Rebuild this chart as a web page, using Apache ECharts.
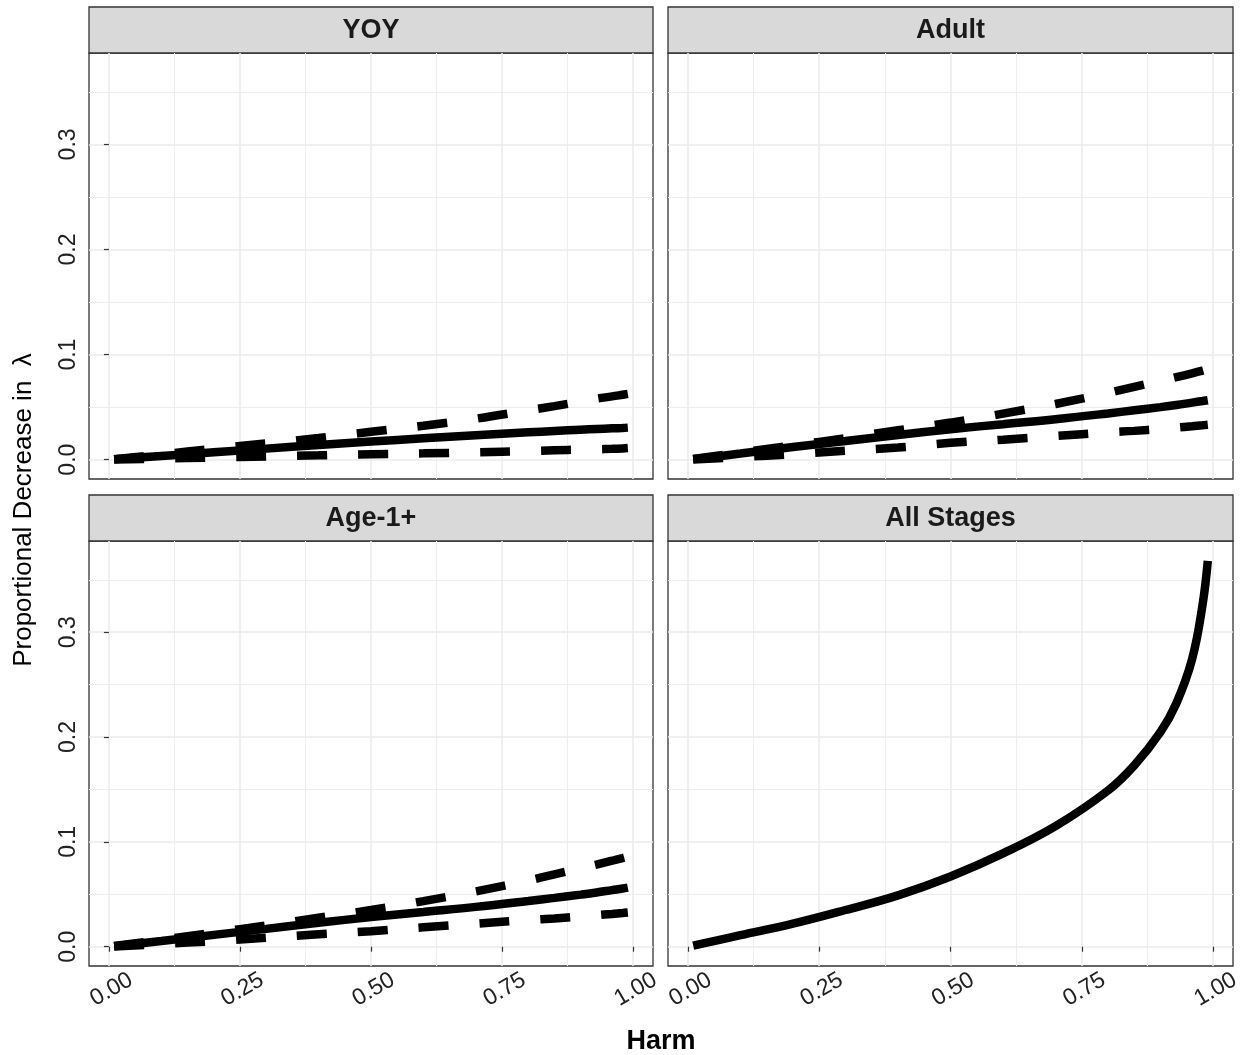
<!DOCTYPE html>
<html>
<head>
<meta charset="UTF-8">
<title>Proportional Decrease in lambda</title>
<script src="https://cdn.jsdelivr.net/npm/echarts@6/dist/echarts.min.js"></script>
<style>
  html, body { margin: 0; padding: 0; background: #fff; }
  #chart1 { width: 1248px; height: 1055px; }
</style>
</head>
<body>
<div id="chart1"></div>
<script type="text/javascript">
// harm levels the curves were read at
var harm = [0.01, 0.1, 0.2, 0.3, 0.4, 0.5, 0.6, 0.7, 0.8, 0.85, 0.9, 0.93, 0.96, 0.98, 0.99];

// YOY
var yoyMean  = [0.0003, 0.0035, 0.007, 0.0105, 0.014, 0.0172, 0.0203, 0.0233, 0.026, 0.0273, 0.0285, 0.0292, 0.0298, 0.0302, 0.0305];
var yoyUpper = [0.0005, 0.005, 0.0105, 0.0155, 0.0206, 0.0265, 0.0322, 0.039, 0.047, 0.051, 0.0553, 0.058, 0.0602, 0.0618, 0.0626];
var yoyLower = [0.0001, 0.001, 0.002, 0.003, 0.0041, 0.0052, 0.006, 0.007, 0.0082, 0.0089, 0.0096, 0.0099, 0.0103, 0.0107, 0.011];
// Adult
var adultMean  = [0.0005, 0.0058, 0.012, 0.0178, 0.0235, 0.029, 0.0338, 0.0385, 0.044, 0.047, 0.05, 0.052, 0.0543, 0.0558, 0.0566];
var adultUpper = [0.0007, 0.0068, 0.0135, 0.0205, 0.028, 0.0353, 0.0438, 0.053, 0.0635, 0.0693, 0.075, 0.0785, 0.0822, 0.0848, 0.0862];
var adultLower = [0.0002, 0.0025, 0.0052, 0.0085, 0.0115, 0.016, 0.019, 0.0225, 0.026, 0.0274, 0.0292, 0.0305, 0.0318, 0.0327, 0.0332];
// Age-1+
var ageMean  = [0.0005, 0.0055, 0.0113, 0.017, 0.0228, 0.0283, 0.0332, 0.038, 0.0436, 0.0466, 0.0497, 0.0517, 0.054, 0.0555, 0.0564];
var ageUpper = [0.0007, 0.0066, 0.0133, 0.0203, 0.0277, 0.035, 0.0435, 0.0528, 0.0632, 0.069, 0.0748, 0.0783, 0.082, 0.0846, 0.086];
var ageLower = [0.0002, 0.0026, 0.0053, 0.0086, 0.0118, 0.0148, 0.0185, 0.022, 0.0255, 0.027, 0.0288, 0.03, 0.0313, 0.0322, 0.0327];
// All Stages
var allMean = [0.001, 0.011, 0.022, 0.035, 0.049, 0.067, 0.089, 0.115, 0.149, 0.173, 0.205, 0.232, 0.274, 0.326, 0.368];

var panels = ['YOY', 'Adult', 'Age-1+', 'All Stages'];
var xTicks = [0, 0.25, 0.5, 0.75, 1];
var xMinor = [0.125, 0.375, 0.625, 0.875];
var yTicks = [0, 0.1, 0.2, 0.3];
var yMinor = [0.05, 0.15, 0.25, 0.35];

var FONT = 'Liberation Sans, Arial, sans-serif';

// panel boxes (plot area) and strips
var boxes = [
  { left: 89,  top: 53,  width: 564, height: 426 },
  { left: 668, top: 53,  width: 565, height: 426 },
  { left: 89,  top: 541, width: 564, height: 425 },
  { left: 668, top: 541, width: 565, height: 425 }
];
var STRIP_H = 46;

function pairs(arr) {
  return harm.map(function (h, i) { return [h, arr[i]]; });
}

var chart1 = echarts.init(document.getElementById('chart1'));

var grids = [], xAxes = [], yAxes = [], graphics = [];

boxes.forEach(function (b, i) {
  var bottomRow = i >= 2;
  var leftCol = i % 2 === 0;
  grids.push({
    left: b.left, top: b.top, width: b.width, height: b.height,
    show: true, backgroundColor: '#fff', borderColor: '#333333', borderWidth: 1.3,
    containLabel: false, outerBoundsMode: 'none'
  });
  // major x
  xAxes.push({
    type: 'value', gridIndex: i, min: -0.038, max: 1.038,
    axisLine: { show: false },
    axisTick: { show: bottomRow, customValues: xTicks, length: 5, lineStyle: { color: '#333', width: 1.2 } },
    axisLabel: {
      show: bottomRow, customValues: xTicks, rotate: 30, align: 'center', verticalAlign: 'middle',
      margin: 25, fontSize: 23, color: '#222', fontFamily: FONT,
      padding: [0, 0, 0, 6],
      formatter: function (v) { return v.toFixed(2); }
    },
    splitLine: { show: true, lineStyle: { color: '#EBEBEB', width: 1.6 } }
  });
  // minor x
  xAxes.push({
    type: 'value', gridIndex: i, min: -0.038, max: 1.038,
    axisLine: { show: false },
    axisTick: { show: false, customValues: xMinor },
    axisLabel: { show: false, customValues: xMinor },
    splitLine: { show: true, lineStyle: { color: '#EDEDED', width: 1 } }
  });
  // major y
  yAxes.push({
    type: 'value', gridIndex: i, min: -0.0184, max: 0.387,
    axisLine: { show: false },
    axisTick: { show: leftCol, customValues: yTicks, length: 5, lineStyle: { color: '#333', width: 1.2 } },
    axisLabel: {
      show: leftCol, customValues: yTicks, rotate: 90, margin: 9,
      fontSize: 23, color: '#222', fontFamily: FONT,
      formatter: function (v) { return v.toFixed(1); }
    },
    splitLine: { show: true, lineStyle: { color: '#EBEBEB', width: 1.6 } }
  });
  // minor y
  yAxes.push({
    type: 'value', gridIndex: i, min: -0.0184, max: 0.387,
    axisLine: { show: false },
    axisTick: { show: false, customValues: yMinor },
    axisLabel: { show: false, customValues: yMinor },
    splitLine: { show: true, lineStyle: { color: '#EDEDED', width: 1 } }
  });
  // strip
  graphics.push({
    type: 'rect',
    shape: { x: b.left, y: b.top - STRIP_H, width: b.width, height: STRIP_H },
    style: { fill: '#D9D9D9', stroke: '#333333', lineWidth: 1.3 }
  });
  graphics.push({
    type: 'text',
    x: b.left + b.width / 2, y: b.top - STRIP_H / 2 + 1,
    style: {
      text: panels[i], fill: '#1A1A1A', font: 'bold 27px ' + FONT,
      textAlign: 'center', textVerticalAlign: 'middle'
    }
  });
});

graphics.push({
  type: 'text', x: 661, y: 1042,
  style: { text: 'Harm', fill: '#000', font: 'bold 27px ' + FONT, textAlign: 'center', textVerticalAlign: 'middle' }
});
graphics.push({
  type: 'text', x: 24, y: 510, rotation: Math.PI / 2,
  style: { text: 'Proportional Decrease in  \u03bb', fill: '#000', font: '26px ' + FONT, textAlign: 'center', textVerticalAlign: 'middle' }
});

function line(gi, arr, dashed) {
  return {
    type: 'line', xAxisIndex: gi * 2, yAxisIndex: gi * 2,
    data: pairs(arr), showSymbol: false, symbol: 'none', smooth: 0.4,
    silent: true, animation: false,
    lineStyle: { color: '#000', width: 8.5, type: dashed ? [30, 31] : 'solid', cap: 'butt' }
  };
}

var series = [
  line(0, yoyMean, false), line(0, yoyUpper, true), line(0, yoyLower, true),
  line(1, adultMean, false), line(1, adultUpper, true), line(1, adultLower, true),
  line(2, ageMean, false), line(2, ageUpper, true), line(2, ageLower, true),
  line(3, allMean, false)
];

var option = {
  animation: false,
  backgroundColor: '#fff',
  grid: grids,
  xAxis: xAxes,
  yAxis: yAxes,
  graphic: graphics,
  series: series
};

chart1.setOption(option);
</script>
</body>
</html>
